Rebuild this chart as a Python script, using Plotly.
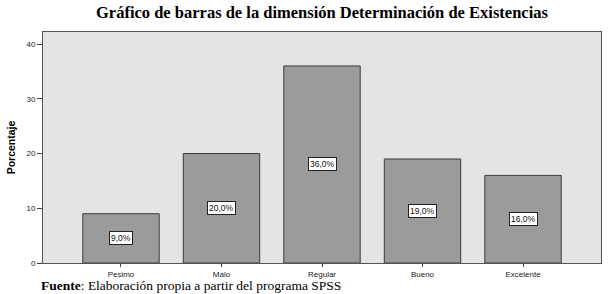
import plotly.graph_objects as go

categories = ["Pesimo", "Malo", "Regular", "Bueno", "Excelente"]
values = [9, 20, 36, 19, 16]
labels = ["9,0%", "20,0%", "36,0%", "19,0%", "16,0%"]
y_ticks = [0, 10, 20, 30, 40]

fig = go.Figure()
fig.add_trace(go.Bar(
    x=categories, y=values,
    marker=dict(color="#9b9b9b", line=dict(color="#3a3a3a", width=1)),
    width=0.76,
    hoverinfo="skip",
))

for c, v, t in zip(categories, values, labels):
    fig.add_annotation(
        x=c, y=v / 2, text=t, showarrow=False,
        font=dict(family="Liberation Sans, Arial", size=8.5, color="#111"),
        bgcolor="white", bordercolor="#222", borderwidth=1, borderpad=1,
    )

fig.add_annotation(
    xref="paper", yref="paper", x=0.5, xanchor="center", y=1, yanchor="bottom", yshift=8,
    text="<b>Gráfico de barras de la dimensión Determinación de Existencias</b>",
    showarrow=False,
    font=dict(family="Liberation Serif, Times New Roman", size=16.5, color="black"),
)
fig.add_annotation(
    xref="paper", yref="paper", x=-0.005, xanchor="left", y=0, yanchor="top", yshift=-14,
    text="<b>Fuente</b>: Elaboración propia a partir del programa SPSS",
    showarrow=False, borderpad=0,
    font=dict(family="Liberation Serif, Times New Roman", size=13.5, color="black"),
)

fig.update_layout(
    width=608, height=294,
    margin=dict(l=43, r=7, t=32, b=31),
    paper_bgcolor="white", plot_bgcolor="#e4e4e4",
    showlegend=False,
    xaxis=dict(
        range=[-0.776, 4.776], showgrid=False, zeroline=False,
        ticks="outside", ticklen=3, tickcolor="#444",
        tickfont=dict(family="Liberation Sans, Arial", size=8, color="#222"),
        showline=True, linecolor="#555", linewidth=1, mirror=True,
        fixedrange=True,
    ),
    yaxis=dict(
        range=[0, 42.2], tickvals=y_ticks, showgrid=False, zeroline=False,
        ticks="outside", ticklen=5, tickcolor="#444",
        tickfont=dict(family="Liberation Sans, Arial", size=8, color="#222"),
        showline=True, linecolor="#555", linewidth=1, mirror=True,
        title=dict(text="<b>Porcentaje</b>", standoff=8,
                   font=dict(family="Liberation Sans, Arial", size=10.5, color="black")),
        fixedrange=True,
    ),
)

fig.write_html("out.html")
